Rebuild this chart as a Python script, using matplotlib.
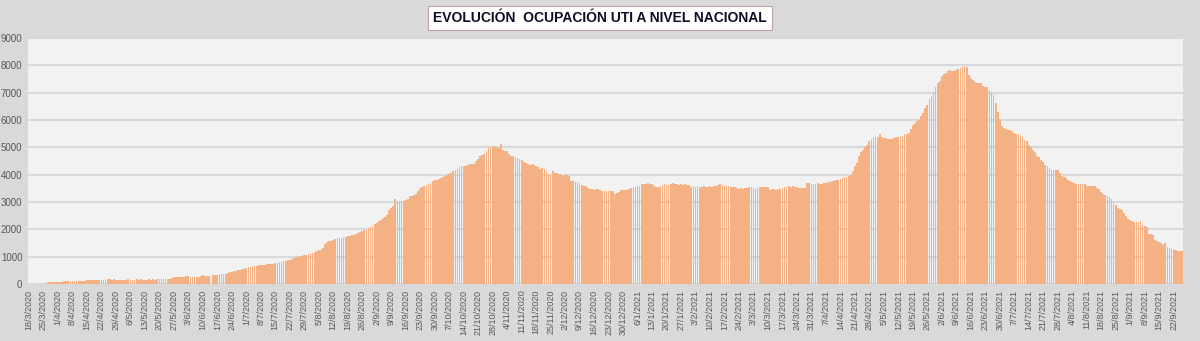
import numpy as np
import pandas as pd
import matplotlib
matplotlib.use("Agg")
import matplotlib.pyplot as plt

# Pacientes en UTI por día (18/3/2020 - 26/9/2021)
ocupacion_2020 = [
    3, 5, 6, 8, 10, 12, 14,
    45, 50, 55, 55, 60, 65, 70,
    80, 85, 90, 95, 95, 100, 110,
    115, 120, 100, 105, 110, 115, 120,
    130, 140, 145, 150, 150, 155, 150,
    150, 155, 160, 165, 165, 160, 165,
    160, 155, 150, 150, 155, 160, 165,
    160, 155, 160, 165, 160, 165, 160,
    155, 160, 165, 160, 165, 160, 165,
    170, 165, 170, 180, 190, 200, 210,
    240, 260, 270, 260, 265, 270, 280,
    310, 250, 245, 250, 255, 270, 300,
    330, 290, 280, 290, 0, 340, 345,
    345, 350, 355, 370, 380, 400, 430,
    450, 470, 480, 500, 520, 550, 560,
    600, 610, 620, 640, 660, 670, 690,
    700, 690, 700, 720, 730, 740, 730,
    760, 780, 790, 800, 830, 850, 860,
    880, 920, 950, 980, 1000, 1010, 1030,
    1050, 1070, 1090, 1100, 1130, 1160, 1190,
    1230, 1260, 1300, 1450, 1550, 1580, 1590,
    1600, 1640, 1670, 1690, 1700, 1710, 1720,
    1740, 1770, 1790, 1810, 1840, 1870, 1910,
    1940, 1970, 1990, 2040, 2090, 2130, 2180,
    2240, 2290, 2330, 2400, 2460, 2510, 2700,
    2770, 2870, 3110, 2990, 3000, 3020, 3050,
    3080, 3110, 3210, 3230, 3250, 3280, 3400,
    3520, 3550, 3580, 3620, 3650, 3700, 3760,
    3790, 3820, 3840, 3870, 3900, 3960, 4000,
    4030, 4060, 4120, 4160, 4210, 4280, 4300,
    4310, 4330, 4370, 4380, 4400, 4400, 4490,
    4570, 4670, 4720, 4760, 4850, 5010, 4980,
    5040, 5000, 5010, 4990, 5130, 4920, 4880,
    4850, 4760, 4700, 4670, 4640, 4610, 4560,
    4520, 4450, 4430, 4390, 4370, 4390, 4350,
    4310, 4280, 4190, 4250, 4190, 4120, 4020,
    3970, 4150, 4060, 4060, 4020, 4030, 3960,
    4000, 3970, 3940, 3750, 3750, 3740, 3730,
    3690, 3630, 3600, 3570, 3510, 3490, 3470,
    3450, 3460, 3470, 3440, 3420, 3390, 3400,
    3410, 3400, 3390, 3300, 3320, 3350, 3450,
    3440, 3450,
]

ocupacion_2021 = [
    3440, 3460, 3510, 3530, 3550, 3570, 3600,
    3640, 3640, 3660, 3680, 3670, 3650, 3570,
    3550, 3550, 3560, 3620, 3640, 3630, 3620,
    3640, 3680, 3650, 3640, 3630, 3640, 3620,
    3640, 3630, 3620, 3550, 3570, 3560, 3570,
    3550, 3560, 3570, 3550, 3560, 3570, 3550,
    3570, 3600, 3620, 3640, 3620, 3600, 3590,
    3580, 3560, 3550, 3540, 3520, 3490, 3500,
    3490, 3510, 3510, 3530, 3550, 3520, 3490,
    3510, 3530, 3550, 3550, 3540, 3530, 3450,
    3460, 3470, 3450, 3470, 3480, 3500, 3550,
    3560, 3570, 3560, 3570, 3560, 3550, 3510,
    3520, 3510, 3520, 3700, 3690, 3660, 3650,
    3670, 3680, 3660, 3670, 3690, 3700, 3730,
    3740, 3760, 3770, 3790, 3820, 3840, 3870,
    3900, 3920, 3960, 4000, 4120, 4300, 4430,
    4670, 4820, 4910, 5010, 5100, 5220, 5300,
    5350, 5380, 5380, 5470, 5380, 5350, 5330,
    5310, 5300, 5310, 5350, 5360, 5380, 5400,
    5400, 5470, 5500, 5530, 5670, 5830, 5890,
    5950, 6010, 6130, 6250, 6440, 6560, 6760,
    6860, 7010, 7200, 7350, 7440, 7620, 7690,
    7720, 7780, 7820, 7780, 7800, 7840, 7870,
    7900, 7950, 7990, 7940, 7660, 7540, 7450,
    7380, 7350, 7350, 7340, 7230, 7210, 7200,
    7100, 7010, 6930, 6620, 6310, 6040, 5770,
    5700, 5670, 5650, 5650, 5600, 5530, 5500,
    5470, 5460, 5380, 5280, 5220, 5100, 5010,
    4890, 4820, 4700, 4650, 4550, 4450, 4370,
    4330, 4250, 4180, 4180, 4170, 4160, 4060,
    3960, 3920, 3870, 3820, 3760, 3730, 3700,
    3660, 3650, 3640, 3650, 3640, 3600, 3600,
    3580, 3580, 3600, 3510, 3480, 3360, 3310,
    3240, 3210, 3190, 3120, 2970, 2900, 2780,
    2740, 2720, 2600, 2470, 2380, 2330, 2290,
    2260, 2250, 2250, 2310, 2160, 2130, 2100,
    1830, 1830, 1780, 1610, 1590, 1550, 1510,
    1430, 1490, 1350, 1320, 1290, 1240, 1230,
    1220, 1220, 1210,
]

fecha_inicio = "2020-03-18"
titulo = "EVOLUCIÓN  OCUPACIÓN UTI A NIVEL NACIONAL"
y_ticks = list(range(0, 9001, 1000))

valores = ocupacion_2020 + ocupacion_2021
fechas = pd.date_range(fecha_inicio, periods=len(valores), freq="D")
etiquetas = [f"{d.day}/{d.month}/{d.year}" for d in fechas]

plt.rcParams["font.family"] = ["Liberation Sans", "DejaVu Sans"]

fig = plt.figure(figsize=(12, 3.41), dpi=100)
fig.patch.set_facecolor("#D9D9D9")
ax = fig.add_axes([0.0233, 0.1672, 0.9625, 0.7214])
ax.set_facecolor("#F2F2F2")

x = np.arange(len(valores))
ax.bar(x, valores, width=0.85, color="#F4B183", edgecolor="none", zorder=2)

ax.set_xlim(-0.5, len(valores) - 0.5)
ax.set_ylim(0, 9000)
ax.set_yticks(y_ticks)
ax.set_yticklabels([str(v) for v in y_ticks], fontsize=7, color="#595959")
ax.yaxis.grid(True, color="#D9D9D9", linewidth=1.5, zorder=0)
ax.set_axisbelow(True)

ax.set_xticks(x[::7])
ax.set_xticklabels(etiquetas[::7], rotation=90, fontsize=6.5, color="#595959")
ax.tick_params(axis="both", length=0)
ax.tick_params(axis="y", pad=4)
ax.tick_params(axis="x", pad=4)

for s in ax.spines.values():
    s.set_visible(False)

fig.text(0.5, 0.947, titulo, ha="center", va="center", fontsize=10,
         fontweight="bold", color="#0D0D26",
         bbox=dict(boxstyle="square,pad=0.35", facecolor="white",
                   edgecolor="#B7A3A3", linewidth=0.8))

fig.savefig("out.png", dpi=100, facecolor=fig.get_facecolor())
